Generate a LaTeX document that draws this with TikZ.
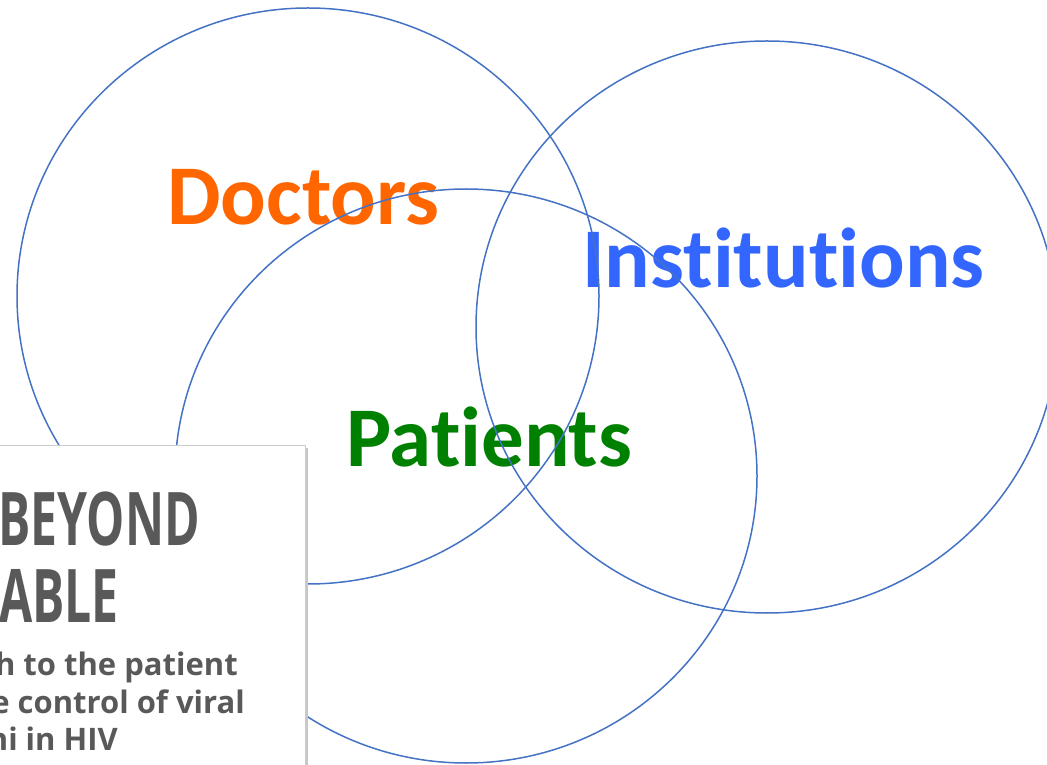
\documentclass[tikz,border=0pt]{standalone}
\usepackage{fontspec}
\setmainfont{Carlito}[Ligatures=NoCommon]
\newfontfamily\condfont[FakeStretch=0.65]{Open Sans}
\newfontfamily\boxfont{Open Sans}
\definecolor{vennblue}{RGB}{68,114,196}
\definecolor{doctorsorange}{RGB}{255,102,0}
\definecolor{institutionsblue}{RGB}{51,102,255}
\definecolor{patientsgreen}{RGB}{0,128,0}
\definecolor{boxgray}{RGB}{89,89,89}
\begin{document}
\begin{tikzpicture}[x=1pt,y=1pt,
    vennline/.style={draw=vennblue, line width=1.5pt},
    biglabel/.style={font=\fontsize{85}{85}\selectfont\bfseries, inner sep=0pt, anchor=base west},
    titleline/.style={font=\condfont\fontsize{74}{74}\selectfont\bfseries, text=boxgray, inner sep=0pt, anchor=base east},
    boxline/.style={font=\boxfont\fontsize{31}{31}\selectfont\bfseries, text=boxgray, inner sep=0pt, anchor=base east}]
    \useasboundingbox (0,0) rectangle (1047,764);
    \clip (0,0) rectangle (1047,764);
    % Writing the three labels
    \node[biglabel, text=doctorsorange] (doctors) at (167,539) {Doctors};
    \node[biglabel, text=institutionsblue] (institutions) at (582,476) {Institutions};
    \node[biglabel, text=patientsgreen] (patients) at (346,298) {Patients};
    % Drawing the circles of the diagram
    \foreach \cx/\cy/\ry in {308/468/288, 767/437/286, 466/288/287} {
            \draw[vennline] (\cx,\cy) ellipse (291 and \ry);
        }
    % Drawing the cover box
    \fill[black!22] (-10,-10) rectangle (308,316);
    \filldraw[fill=white, draw=black!20] (-10,-10) rectangle (305,319);
    \node[titleline] (beyond) at (200,219) {BEYOND};
    \node[titleline] (able) at (119,142) {ABLE};
    \node[boxline] (lineone) at (238,89) {h to the patient};
    \node[boxline] (linetwo) at (245,51) {e control of viral};
    \node[boxline] (linethree) at (118,14) {hi in HIV};
\end{tikzpicture}
\end{document}
